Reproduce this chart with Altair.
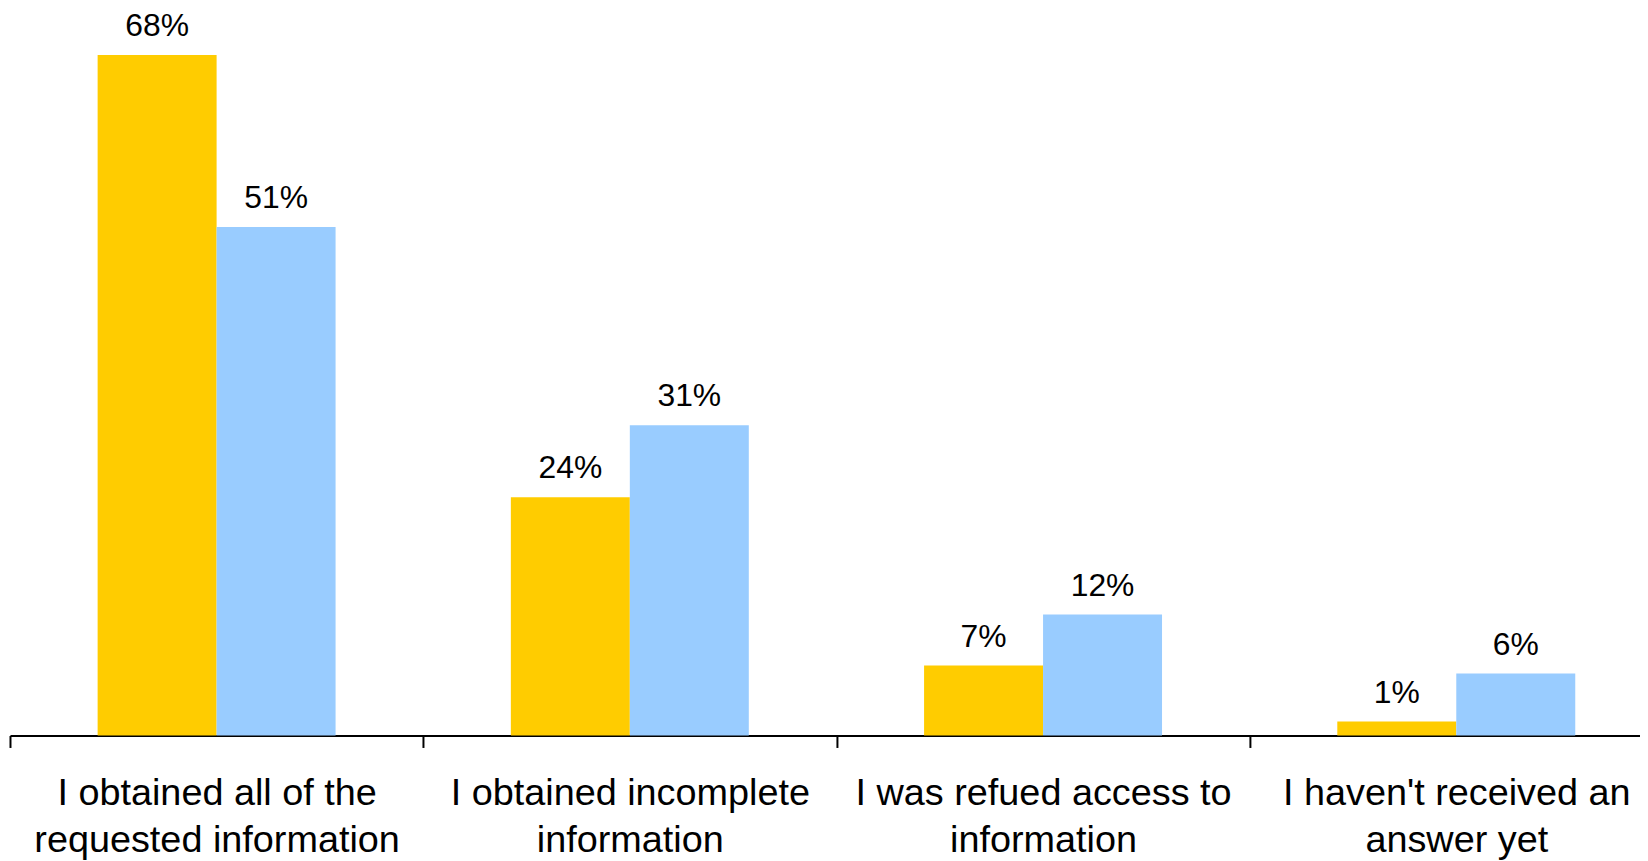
import altair as alt
import pandas as pd

categories = [
    "I obtained all of the\nrequested information",
    "I obtained incomplete\ninformation",
    "I was refued access to\ninformation",
    "I haven't received an\nanswer yet",
]
series = ["Series A", "Series B"]
values_a = [68.0, 23.8, 7.0, 1.4]
values_b = [50.8, 31.0, 12.1, 6.2]
colors = ["#FFCC00", "#99CCFF"]

rows = []
for c, a, b in zip(categories, values_a, values_b):
    rows.append({"category": c, "series": series[0], "value": a})
    rows.append({"category": c, "series": series[1], "value": b})
df = pd.DataFrame(rows)

FONT = "Liberation Sans"

x_enc = alt.X(
    "category:N",
    sort=categories,
    scale=alt.Scale(range=[0, 1661], paddingInner=0, paddingOuter=0),
    axis=alt.Axis(
        title=None,
        labelAngle=0,
        labelFont=FONT,
        labelFontSize=38,
        labelColor="black",
        labelPadding=27,
        labelLineHeight=48,
        labelLimit=0,
        labelExpr="split(datum.label, '\\n')",
        domainColor="black",
        domainWidth=2,
        tickColor="black",
        tickWidth=2,
        tickSize=12,
        tickBand="extent",
        grid=False,
    ),
)
xoff = alt.XOffset(
    "series:N",
    sort=series,
    scale=alt.Scale(paddingInner=0, paddingOuter=0.7366),
)
y_enc = alt.Y("value:Q", scale=alt.Scale(domain=[0, 70], nice=False), axis=None)

base = alt.Chart(df).encode(x=x_enc, xOffset=xoff, y=y_enc)

bars = base.mark_bar().encode(
    color=alt.Color("series:N", sort=series,
                    scale=alt.Scale(domain=series, range=colors), legend=None)
)

texts = base.transform_calculate(
    label="format(datum.value, '.0f') + '%'"
).mark_text(
    font=FONT, fontSize=32, dy=-19, baseline="alphabetic", align="center", color="black"
).encode(text="label:N")

chart = alt.layer(bars, texts).properties(
    width=1638,
    height=704,
    background="white",
    autosize=alt.AutoSizeParams(type="none"),
    padding={"left": 2, "top": 25, "right": 0, "bottom": 124},
).configure_view(strokeWidth=0, stroke=None)

chart.save("out.html", embed_options={"renderer": "svg", "actions": False})
